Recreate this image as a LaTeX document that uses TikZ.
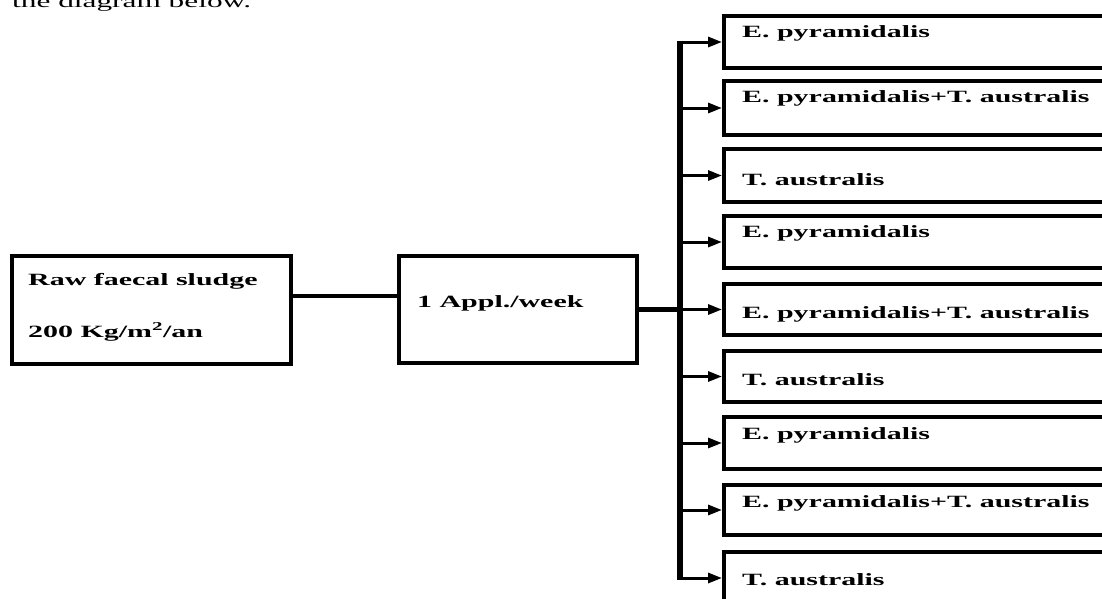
\documentclass[tikz,border=0pt]{standalone}
\usepackage{fontspec}
\setmainfont{Liberation Serif}
\newfontfamily\widefont{Liberation Serif}[FakeStretch=1.74]
\usetikzlibrary{arrows.meta}
\begin{document}
\begin{tikzpicture}[x=1pt,y=-1pt,
  rbox/.style={draw=black, line width=4pt, minimum width=391pt, inner sep=0pt, rectangle, line join=miter},
  lbox/.style={draw=black, line width=4pt, inner sep=0pt, rectangle},
  txt/.style={inner sep=0pt, anchor=base west, font=\widefont\bfseries\fontsize{17.2}{19}\selectfont},
  plain/.style={inner sep=0pt, anchor=base west, font=\widefont\fontsize{18}{20}\selectfont},
  arr/.style={line width=3pt, -{Triangle[length=14pt,width=10pt]}},
  conn/.style={line width=4.5pt},
  trunkline/.style={line width=5.5pt}]
\useasboundingbox (0,0) rectangle (1102,598);
\fill[white] (0,0) rectangle (1102,598);

\node[plain] (intro) at (12,7.5) {the diagram below.};

% left boxes
\node[lbox, minimum width=279pt, minimum height=108pt] (raw) at (151.5,310) {};
\node[lbox, minimum width=238pt, minimum height=107pt] (appl) at (518,309.5) {};
\node[txt] (rawt1) at (28,285) {Raw faecal sludge};
\node[txt] (rawt2) at (28,337) {200 Kg/m\textsuperscript{2}/an};
\node[txt] (applt) at (417,307) {1 Appl./week};

% right boxes
\node[rbox, minimum height=52pt] (b1) at (919.5,42) {};
\node[rbox, minimum height=54pt] (b2) at (919.5,108) {};
\node[rbox, minimum height=53pt] (b3) at (919.5,175.5) {};
\node[rbox, minimum height=52pt] (b4) at (919.5,242) {};
\node[rbox, minimum height=51pt] (b5) at (919.5,309.5) {};
\node[rbox, minimum height=51pt] (b6) at (919.5,376.5) {};
\node[rbox, minimum height=52pt] (b7) at (919.5,443) {};
\node[rbox, minimum height=50pt] (b8) at (919.5,510) {};
\node[rbox, minimum height=52pt] (b9) at (919.5,578) {};

\node[txt] (t1) at (742,37) {E. pyramidalis};
\node[txt] (t2) at (742,102) {E. pyramidalis+T. australis};
\node[txt] (t3) at (742,185) {T. australis};
\node[txt] (t4) at (742,237) {E. pyramidalis};
\node[txt] (t5) at (742,318) {E. pyramidalis+T. australis};
\node[txt] (t6) at (742,385) {T. australis};
\node[txt] (t7) at (742,439) {E. pyramidalis};
\node[txt] (t8) at (742,507) {E. pyramidalis+T. australis};
\node[txt] (t9) at (742,585) {T. australis};

% connectors
\coordinate (trunk) at (680,0);
\draw[conn] ([yshift=14pt]raw.east) -- ([yshift=14pt]raw.east -| appl.west);
\draw[line width=5pt] (appl.east) -- (appl.east -| trunk);
\draw[trunkline, shorten <=-1.5pt, shorten >=-1.5pt] (b1.west -| trunk) -- (b9.west -| trunk);
\foreach \b in {b1,b2,b3,b4,b5,b6,b7,b8,b9}{
  \draw[arr] (\b.west -| trunk) -- (\b.west);
}
\end{tikzpicture}
\end{document}
